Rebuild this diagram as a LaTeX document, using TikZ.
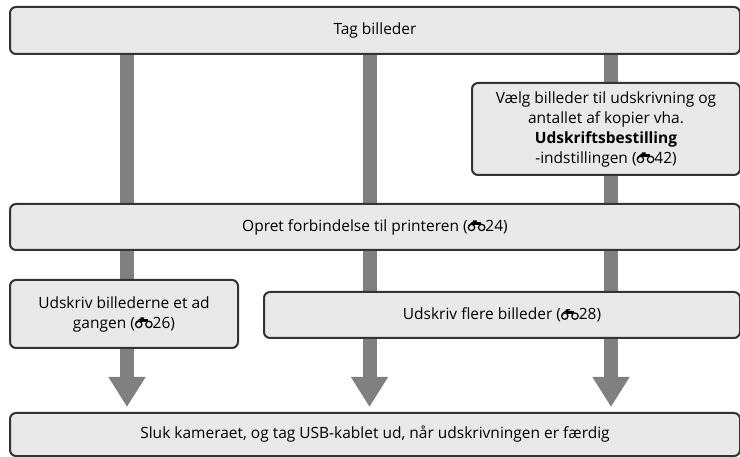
\documentclass[tikz,border=0pt]{standalone}
\usepackage{fontspec}
\setmainfont{Open Sans}
\usetikzlibrary{arrows.meta,backgrounds}
\definecolor{boxfill}{HTML}{E9E9E9}
\definecolor{boxline}{HTML}{333333}
\definecolor{flowgray}{HTML}{808080}
\newcommand{\binoc}{\tikz[baseline=0pt,x=1pt,y=1pt,line width=1.2pt]{%
  \draw (3.8,3.6) circle[radius=3.2];
  \draw (14,3.6) circle[radius=3.2];
  \draw[line width=2.8pt] (4.6,7.4) -- (13.2,7.4);
  \draw (2.0,6.6) -- (3.2,10) -- (5.4,10);}}
\begin{document}
\begin{tikzpicture}[x=1pt, y=-1pt, font=\fontsize{15.5}{20}\selectfont,
		box/.style={draw=boxline, line width=2pt, fill=boxfill, rounded corners=6pt, align=center, anchor=north west, inner sep=2pt},
		flow/.style={draw=flowgray, line width=14pt, -{Triangle[width=35pt,length=30pt]}, shorten >=5pt}]
	\useasboundingbox (0,0) rectangle (740,457);
	\node[box, minimum width=730pt, minimum height=47pt] (top) at (9,6) {Tag billeder};
	\node[box, minimum width=268pt, minimum height=92pt] (order) at (471,82) {Vælg billeder til udskrivning og\\antallet af kopier vha.\\\textbf{Udskriftsbestilling}\\-indstillingen (\binoc42)};
	\node[box, minimum width=730pt, minimum height=46pt] (connect) at (9,203) {Opret forbindelse til printeren (\binoc24)};
	\node[box, minimum width=228pt, minimum height=68pt] (single) at (9,279) {Udskriv billederne et ad\\gangen (\binoc26)};
	\node[box, minimum width=476pt, minimum height=46pt] (multi) at (263,291) {Udskriv flere billeder (\binoc28)};
	\node[box, minimum width=730pt, minimum height=43pt] (bottom) at (9,412) {Sluk kameraet, og tag USB-kablet ud, når udskrivningen er færdig};
	% gray bars behind the boxes
	\coordinate (colA) at (127,0);
	\coordinate (colB) at (369.5,0);
	\coordinate (colC) at (611,0);
	\begin{pgfonlayer}{background}
		\foreach \col in {colA,colB,colC}
			\draw[flow] (top.south -| \col) -- (bottom.north -| \col);
	\end{pgfonlayer}
\end{tikzpicture}
\end{document}
